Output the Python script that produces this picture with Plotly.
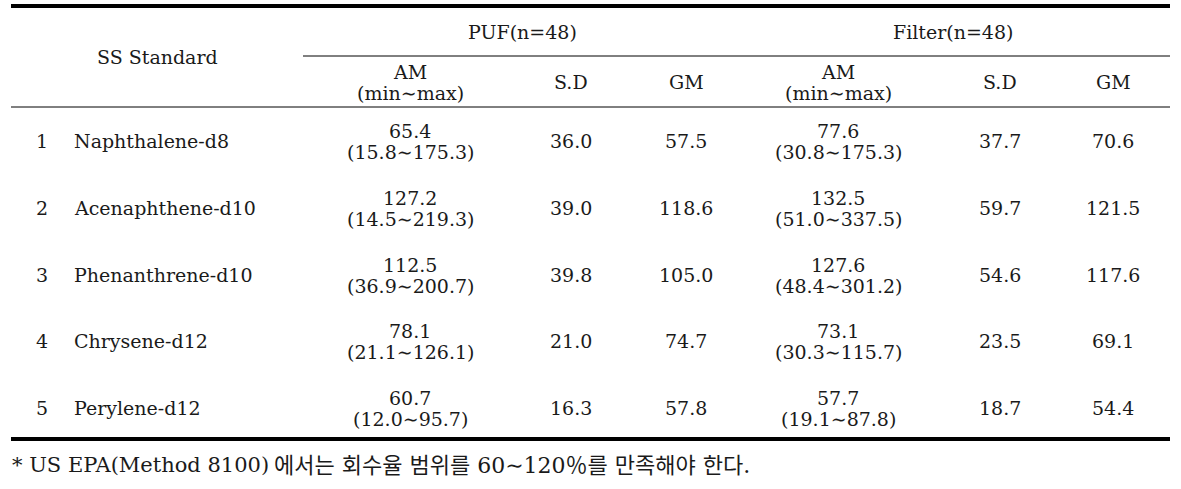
import plotly.graph_objects as go

standards = ["Naphthalene-d8", "Acenaphthene-d10", "Phenanthrene-d10", "Chrysene-d12", "Perylene-d12"]
puf_am = [65.4, 127.2, 112.5, 78.1, 60.7]
puf_min = [15.8, 14.5, 36.9, 21.1, 12.0]
puf_max = [175.3, 219.3, 200.7, 126.1, 95.7]
puf_sd = [36.0, 39.0, 39.8, 21.0, 16.3]
puf_gm = [57.5, 118.6, 105.0, 74.7, 57.8]
flt_am = [77.6, 132.5, 127.6, 73.1, 57.7]
flt_min = [30.8, 51.0, 48.4, 30.3, 19.1]
flt_max = [175.3, 337.5, 301.2, 115.7, 87.8]
flt_sd = [37.7, 59.7, 54.6, 23.5, 18.7]
flt_gm = [70.6, 121.5, 117.6, 69.1, 54.4]
group_labels = ["PUF(n=48)", "Filter(n=48)"]
col_labels = ["AM", "(min∼max)", "S.D", "GM"]
footnote_latin = "* US EPA(Method 8100)"
footnote_korean = "에서는 회수율 범위를 60∼120％를 만족해야 한다."

W, H = 1181, 489
FONT = "DejaVu Serif, Noto Sans CJK KR"
FS = 19
COLOR = "#1a1a1a"
DY = 10.5  # half spacing of two-line cells

fig = go.Figure()
fig.update_layout(
    width=W, height=H, margin=dict(l=0, r=0, t=0, b=0),
    paper_bgcolor="white", plot_bgcolor="white",
    xaxis=dict(range=[0, W], visible=False, fixedrange=True),
    yaxis=dict(range=[H, 0], visible=False, fixedrange=True),
    showlegend=False,
)

def txt(x, y, s, xanchor="center", size=FS):
    fig.add_annotation(x=x, y=y, text=s, showarrow=False, xanchor=xanchor, yanchor="middle",
                       font=dict(family=FONT, size=size, color=COLOR), xref="x", yref="y")

def hline(x0, x1, y, w):
    fig.add_shape(type="line", x0=x0, x1=x1, y0=y, y1=y, xref="x", yref="y",
                  line=dict(color="black", width=w))

# rules
hline(11, 1170, 6, 4)
hline(303, 1170, 56, 1)
hline(11, 1170, 107, 1)
hline(11, 1170, 439, 4)

# headers
txt(157, 57, "SS Standard")
txt(522, 32, group_labels[0])
txt(953, 32, group_labels[1])
puf_x = [410, 571, 686]
flt_x = [838, 1000, 1113]
for xs in (puf_x, flt_x):
    txt(xs[0], 82 - DY, col_labels[0])
    txt(xs[0], 82 + DY, col_labels[1])
    txt(xs[1], 82, col_labels[2])
    txt(xs[2], 82, col_labels[3])

row_y = [141, 208, 275, 341, 408]
for i, name in enumerate(standards):
    y = row_y[i]
    txt(42, y, str(i + 1))
    txt(72, y, name, xanchor="left")
    txt(puf_x[0], y - DY, f"{puf_am[i]:.1f}")
    txt(puf_x[0], y + DY, f"({puf_min[i]:.1f}∼{puf_max[i]:.1f})")
    txt(puf_x[1], y, f"{puf_sd[i]:.1f}")
    txt(puf_x[2], y, f"{puf_gm[i]:.1f}")
    txt(flt_x[0], y - DY, f"{flt_am[i]:.1f}")
    txt(flt_x[0], y + DY, f"({flt_min[i]:.1f}∼{flt_max[i]:.1f})")
    txt(flt_x[1], y, f"{flt_sd[i]:.1f}")
    txt(flt_x[2], y, f"{flt_gm[i]:.1f}")

txt(10, 465, footnote_latin, xanchor="left", size=21)
txt(272, 465, footnote_korean, xanchor="left", size=22)

fig.write_html("out.html", config={"displayModeBar": False},
               post_script="document.body.style.margin='0';")
